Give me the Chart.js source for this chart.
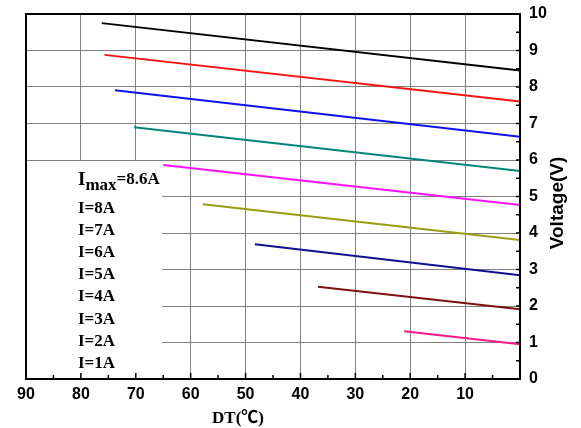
<!DOCTYPE html>
<html>
<head>
<meta charset="utf-8">
<script src="https://cdn.jsdelivr.net/npm/chart.js@4.4.0/dist/chart.umd.min.js"></script>
<style>
  html, body { margin: 0; padding: 0; background: #fff; }
  #wrap { width: 581px; height: 428px; }
</style>
</head>
<body>
<div id="wrap"><canvas id="voltChart"></canvas></div>
<script>
// curve labels, top curve first
const curveLabels = ['max', 'I=8A', 'I=7A', 'I=6A', 'I=5A', 'I=4A', 'I=3A', 'I=2A', 'I=1A'];
const curveColors = ['#000000', '#ff1010', '#1010f0', '#00857a', '#ff10ff', '#9c9c10', '#101090', '#801010', '#ff1888'];
// each curve runs from its start DT down to DT = 0
const startDT = [76.2, 75.7, 73.8, 70.3, 65.0, 57.8, 48.3, 36.8, 21.1];
const startV  = [9.75, 8.88, 7.91, 6.90, 5.86, 4.79, 3.69, 2.53, 1.31];
const endDT   = [0, 0, 0, 0, 0, 0, 0, 0, 0];
const endV    = [8.45, 7.60, 6.64, 5.70, 4.77, 3.81, 2.84, 1.91, 0.95];
const xTickLabels = [90, 80, 70, 60, 50, 40, 30, 20, 10];
const yTickLabels = [0, 1, 2, 3, 4, 5, 6, 7, 8, 9, 10];

const datasets = curveLabels.map((lbl, i) => ({
    label: lbl,
    data: [{ x: startDT[i], y: startV[i] }, { x: endDT[i], y: endV[i] }],
    borderColor: curveColors[i],
    borderWidth: 2,
    pointRadius: 0,
    showLine: true,
    fill: false
}));

const decor = {
    id: 'decor',
    beforeDatasetsDraw(chart) {
        const { ctx, chartArea: a, scales: { x, y } } = chart;
        // blank panel behind the current labels
        const top = y.getPixelForValue(6) + 1;
        ctx.save();
        ctx.fillStyle = '#fff';
        ctx.fillRect(a.left, top, x.getPixelForValue(65) - a.left - 1, a.bottom - top);
        ctx.restore();
    },
    afterDraw(chart) {
        const { ctx, chartArea: a, scales: { x, y } } = chart;
        ctx.save();
        ctx.strokeStyle = '#000';
        ctx.lineWidth = 2;
        ctx.strokeRect(a.left, a.top, a.right - a.left, a.bottom - a.top);

        // inward ticks
        ctx.lineWidth = 1.5;
        ctx.beginPath();
        for (let v = 0; v <= 90; v += 5) {
            const px = x.getPixelForValue(v);
            ctx.moveTo(px, a.bottom);
            ctx.lineTo(px, a.bottom - (v % 10 === 0 ? 6 : 4));
        }
        for (let v = 0; v <= 10; v += 0.5) {
            const py = y.getPixelForValue(v);
            ctx.moveTo(a.right, py);
            ctx.lineTo(a.right - 4, py);
        }
        ctx.stroke();

        // axis titles
        ctx.fillStyle = '#000';
        ctx.textAlign = 'center';
        ctx.textBaseline = 'middle';
        ctx.font = 'bold 17px "Liberation Serif", "Noto Sans CJK SC"';
        ctx.fillText('DT(℃)', 238, 419);
        ctx.translate(558, 203);
        ctx.rotate(-Math.PI / 2);
        ctx.font = 'bold 19px "Liberation Sans"';
        ctx.fillText('Voltage(V)', 0, 0);
        ctx.setTransform(1, 0, 0, 1, 0, 0);
        ctx.scale(chart.currentDevicePixelRatio, chart.currentDevicePixelRatio);

        // current labels
        ctx.textAlign = 'left';
        ctx.textBaseline = 'alphabetic';
        const lx = 78;
        ctx.font = 'bold 19px "Liberation Serif"';
        ctx.fillText('I', lx, 185);
        let w = ctx.measureText('I').width;
        ctx.font = 'bold 17px "Liberation Serif"';
        ctx.fillText(curveLabels[0], lx + w, 190);
        w += ctx.measureText(curveLabels[0]).width;
        ctx.fillText('=8.6A', lx + w, 184);
        for (let i = 1; i < curveLabels.length; i++) {
            ctx.fillText(curveLabels[i], lx, 213 + (i - 1) * 22.1);
        }
        ctx.restore();
    }
};

new Chart(document.getElementById('voltChart'), {
    type: 'scatter',
    data: { datasets },
    plugins: [decor],
    options: {
        responsive: true,
        maintainAspectRatio: false,
        animation: false,
        layout: { padding: { left: 26, top: 14, right: 0, bottom: 0 } },
        plugins: { legend: { display: false }, tooltip: { enabled: false } },
        scales: {
            x: {
                type: 'linear',
                reverse: true,
                min: 0,
                max: 90,
                afterFit: s => { s.height = 49; s.paddingLeft = 0; s.paddingRight = 0; },
                afterBuildTicks: s => { s.ticks = [0].concat(xTickLabels.slice().reverse()).map(v => ({ value: v })); },
                grid: { color: '#808080', lineWidth: 1, drawTicks: false },
                border: { display: false },
                ticks: {
                    padding: 6,
                    color: '#000',
                    font: { family: '"Liberation Sans"', size: 16, weight: 'bold' },
                    callback: v => (xTickLabels.includes(v) ? String(v) : '')
                }
            },
            y: {
                type: 'linear',
                position: 'right',
                min: 0,
                max: 10,
                afterFit: s => { s.width = 61; s.paddingTop = 0; s.paddingBottom = 0; },
                afterBuildTicks: s => { s.ticks = yTickLabels.map(v => ({ value: v })); },
                grid: { color: '#808080', lineWidth: 1, drawTicks: false },
                border: { display: false },
                ticks: {
                    padding: 9,
                    color: '#000',
                    font: { family: '"Liberation Sans"', size: 16, weight: 'bold' }
                }
            }
        }
    }
});
</script>
</body>
</html>
